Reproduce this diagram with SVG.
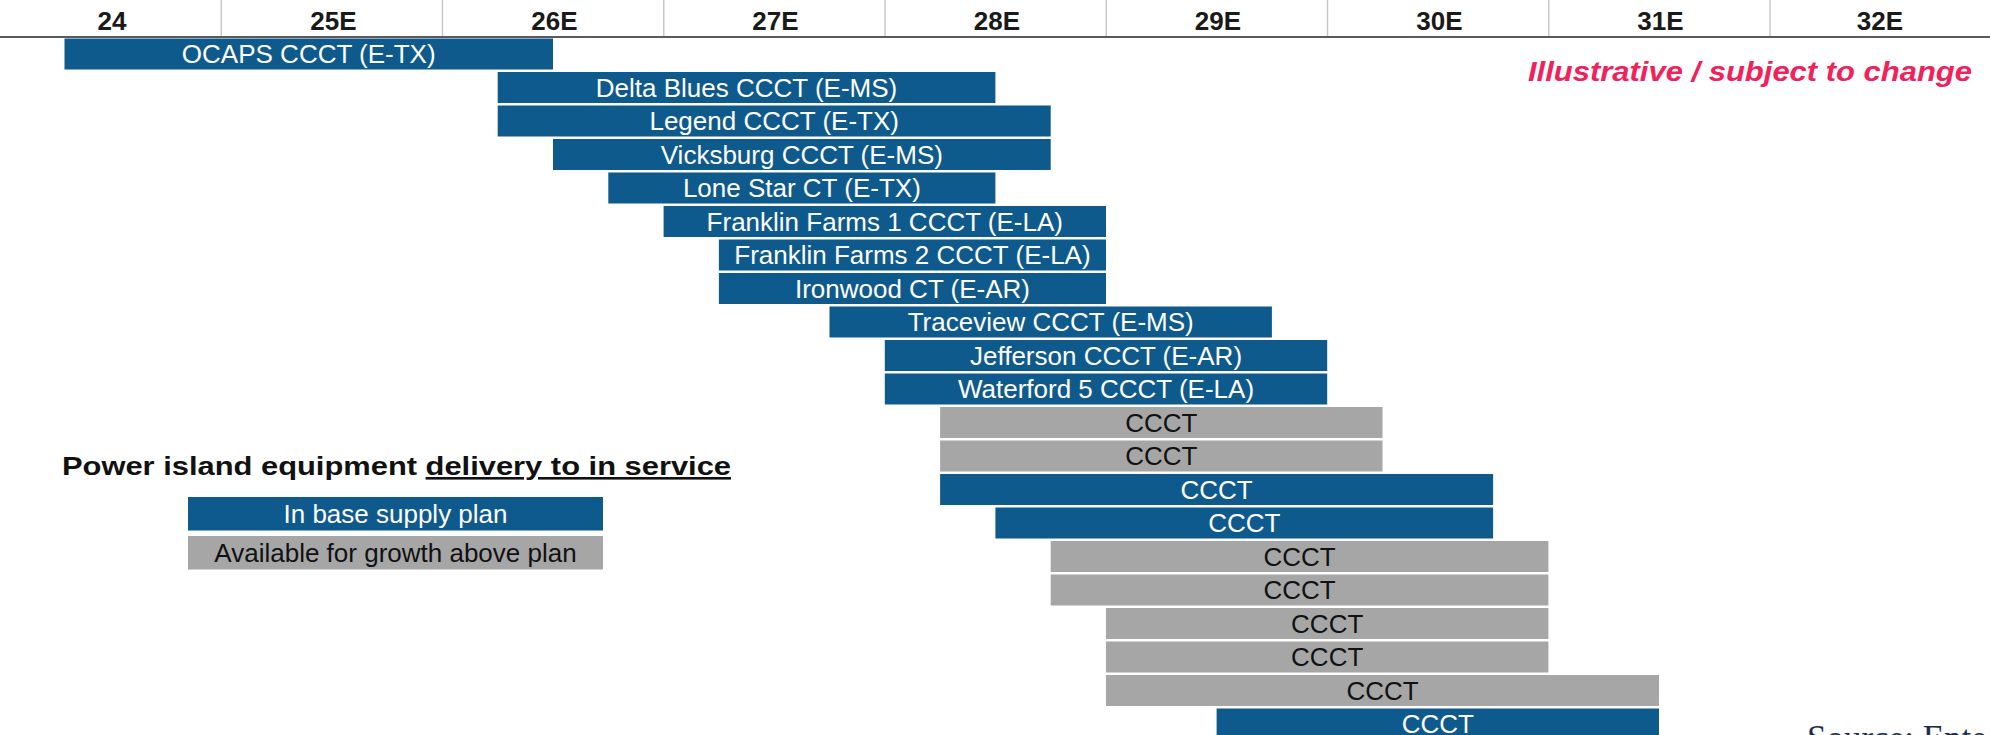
<svg xmlns="http://www.w3.org/2000/svg" width="1990" height="735" viewBox="0 0 1990 735">
<style>
  .bg { fill: #ffffff; }
  .blue rect { fill: #0F5A8C; }
  .gray rect { fill: #A6A6A6; }
  .bar text { font-family: "Liberation Sans", Arial, sans-serif; font-size: 26px; text-anchor: middle; }
  .blue text { fill: #ffffff; }
  .gray text { fill: #111111; }
  .hdr { font-family: "Liberation Sans", Arial, sans-serif; font-size: 26px; font-weight: bold; fill: #1a1a1a; text-anchor: middle; }
  .sep { stroke: #c8c8c8; stroke-width: 1.5; }
  .axis { stroke: #5a5a5a; stroke-width: 2; }
  .title { font-family: "Liberation Sans", Arial, sans-serif; font-size: 26px; font-weight: bold; fill: #111111; }
  .note { font-family: "Liberation Sans", Arial, sans-serif; font-size: 28px; font-weight: bold; font-style: italic; fill: #F2215B; }
  .src { font-family: "Liberation Serif", "Times New Roman", serif; font-size: 35px; fill: #1C2B4A; }
</style>
<rect class="bg" x="0" y="0" width="1990" height="735"/>

<g id="timeline-header">
  <g id="column-separators">
    <line class="sep" x1="221.25" y1="0" x2="221.25" y2="37"/>
    <line class="sep" x1="442.5" y1="0" x2="442.5" y2="37"/>
    <line class="sep" x1="663.75" y1="0" x2="663.75" y2="37"/>
    <line class="sep" x1="885" y1="0" x2="885" y2="37"/>
    <line class="sep" x1="1106.25" y1="0" x2="1106.25" y2="37"/>
    <line class="sep" x1="1327.5" y1="0" x2="1327.5" y2="37"/>
    <line class="sep" x1="1548.75" y1="0" x2="1548.75" y2="37"/>
    <line class="sep" x1="1770" y1="0" x2="1770" y2="37"/>
  </g>
  <line id="axis" class="axis" x1="0" y1="37" x2="1990" y2="37"/>
  <text class="hdr" x="112" y="30">24</text>
  <text class="hdr" x="333.5" y="30">25E</text>
  <text class="hdr" x="554.5" y="30">26E</text>
  <text class="hdr" x="775.5" y="30">27E</text>
  <text class="hdr" x="997" y="30">28E</text>
  <text class="hdr" x="1218" y="30">29E</text>
  <text class="hdr" x="1439.5" y="30">30E</text>
  <text class="hdr" x="1660.5" y="30">31E</text>
  <text class="hdr" x="1880" y="30">32E</text>
</g>

<text id="illustrative-note" class="note" x="1528" y="81" textLength="444" lengthAdjust="spacingAndGlyphs">Illustrative / subject to change</text>

<g id="bars">
  <g id="bar-ocaps" class="bar blue"><rect x="64.5" y="38.5" width="488.5" height="31"/><text x="308.75" y="63">OCAPS CCCT (E-TX)</text></g>
  <g id="bar-delta-blues" class="bar blue"><rect x="497.7" y="72" width="497.7" height="31"/><text x="746.55" y="96.5">Delta Blues CCCT (E-MS)</text></g>
  <g id="bar-legend" class="bar blue"><rect x="497.7" y="105.5" width="553" height="31"/><text x="774.2" y="130">Legend CCCT (E-TX)</text></g>
  <g id="bar-vicksburg" class="bar blue"><rect x="553" y="139" width="497.7" height="31"/><text x="801.85" y="163.5">Vicksburg CCCT (E-MS)</text></g>
  <g id="bar-lone-star" class="bar blue"><rect x="608.3" y="172.5" width="387.1" height="31"/><text x="801.85" y="197">Lone Star CT (E-TX)</text></g>
  <g id="bar-franklin-farms-1" class="bar blue"><rect x="663.6" y="206" width="442.4" height="31"/><text x="884.8" y="230.5">Franklin Farms 1 CCCT (E-LA)</text></g>
  <g id="bar-franklin-farms-2" class="bar blue"><rect x="718.9" y="239.5" width="387.1" height="31"/><text x="912.45" y="264">Franklin Farms 2 CCCT (E-LA)</text></g>
  <g id="bar-ironwood" class="bar blue"><rect x="718.9" y="273" width="387.1" height="31"/><text x="912.45" y="297.5">Ironwood CT (E-AR)</text></g>
  <g id="bar-traceview" class="bar blue"><rect x="829.5" y="306.5" width="442.4" height="31"/><text x="1050.7" y="331">Traceview CCCT (E-MS)</text></g>
  <g id="bar-jefferson" class="bar blue"><rect x="884.8" y="340" width="442.4" height="31"/><text x="1106" y="364.5">Jefferson CCCT (E-AR)</text></g>
  <g id="bar-waterford-5" class="bar blue"><rect x="884.8" y="373.5" width="442.4" height="31"/><text x="1106" y="398">Waterford 5 CCCT (E-LA)</text></g>
  <g id="bar-ccct-1" class="bar gray"><rect x="940.1" y="407" width="442.4" height="31"/><text x="1161.3" y="431.5">CCCT</text></g>
  <g id="bar-ccct-2" class="bar gray"><rect x="940.1" y="440.5" width="442.4" height="31"/><text x="1161.3" y="465">CCCT</text></g>
  <g id="bar-ccct-3" class="bar blue"><rect x="940.1" y="474" width="553" height="31"/><text x="1216.6" y="498.5">CCCT</text></g>
  <g id="bar-ccct-4" class="bar blue"><rect x="995.4" y="507.5" width="497.7" height="31"/><text x="1244.25" y="532">CCCT</text></g>
  <g id="bar-ccct-5" class="bar gray"><rect x="1050.7" y="541" width="497.7" height="31"/><text x="1299.55" y="565.5">CCCT</text></g>
  <g id="bar-ccct-6" class="bar gray"><rect x="1050.7" y="574.5" width="497.7" height="31"/><text x="1299.55" y="599">CCCT</text></g>
  <g id="bar-ccct-7" class="bar gray"><rect x="1106" y="608" width="442.4" height="31"/><text x="1327.2" y="632.5">CCCT</text></g>
  <g id="bar-ccct-8" class="bar gray"><rect x="1106" y="641.5" width="442.4" height="31"/><text x="1327.2" y="666">CCCT</text></g>
  <g id="bar-ccct-9" class="bar gray"><rect x="1106" y="675" width="553" height="31"/><text x="1382.5" y="699.5">CCCT</text></g>
  <g id="bar-ccct-10" class="bar blue"><rect x="1216.6" y="708.5" width="442.4" height="31"/><text x="1437.8" y="733">CCCT</text></g>
</g>

<g id="legend">
  <text id="legend-title" class="title" x="62" y="475" textLength="669" lengthAdjust="spacingAndGlyphs">Power island equipment <tspan text-decoration="underline">delivery to in service</tspan></text>
  <g id="legend-base-plan" class="bar blue"><rect x="188" y="497" width="415" height="33.5"/><text x="395.5" y="523">In base supply plan</text></g>
  <g id="legend-growth" class="bar gray"><rect x="188" y="536" width="415" height="33.5"/><text x="395.5" y="562">Available for growth above plan</text></g>
</g>

<g id="connectors"></g>

<text id="source" class="src" x="1807" y="750">Source: Ente</text>
</svg>
